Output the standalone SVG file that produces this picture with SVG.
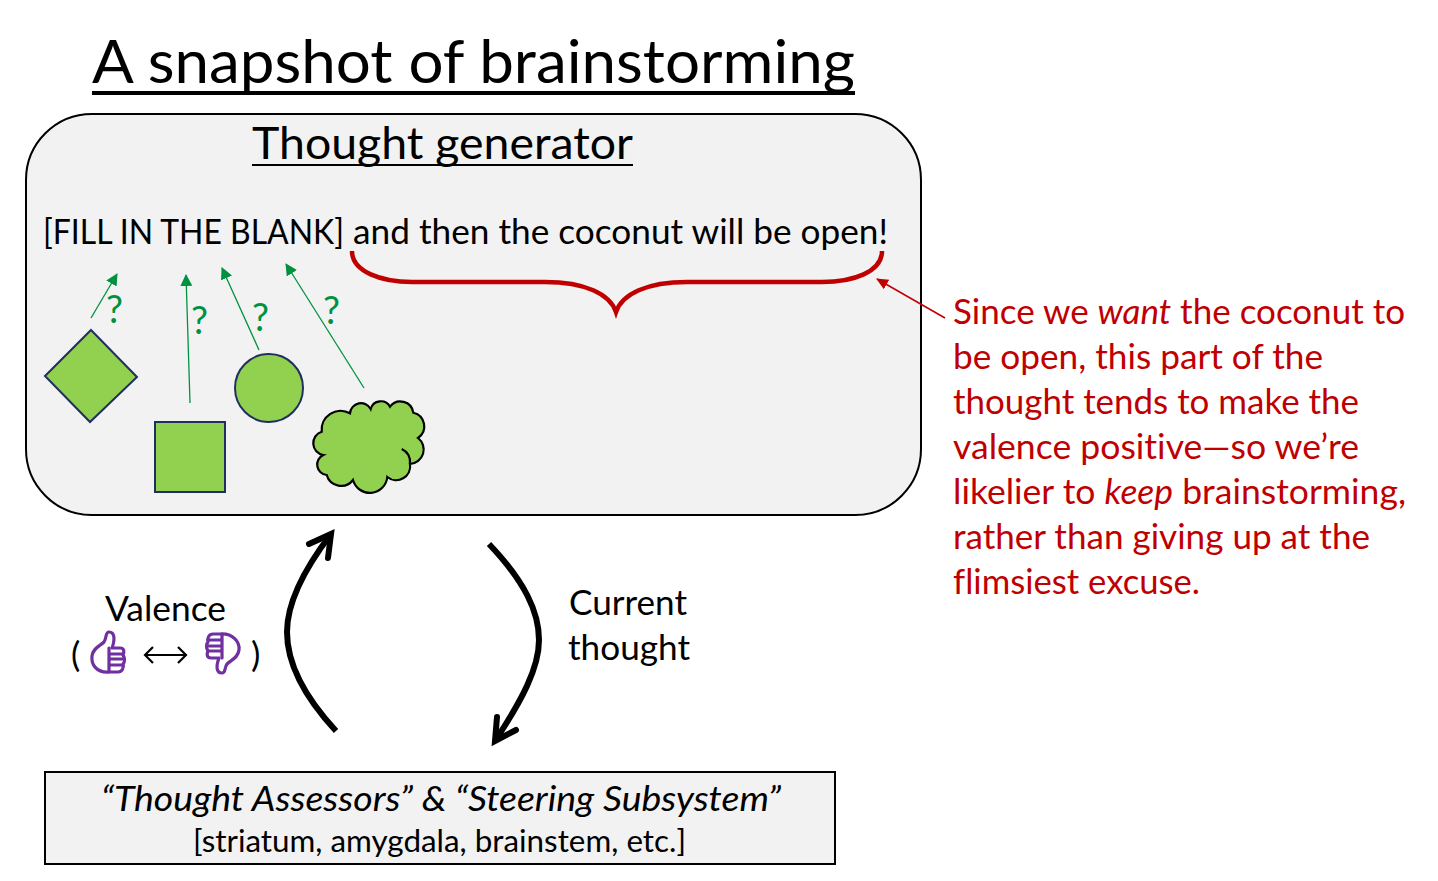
<svg xmlns="http://www.w3.org/2000/svg" width="1438" height="881" viewBox="0 0 1438 881">
<style>
text{font-family:Lato,"Liberation Sans",sans-serif;fill:#000;font-variant-ligatures:none}
.b{font-size:35px}
.r{font-size:35px;fill:#c00000}
.q{font-size:38px;fill:#00913f}
.i{font-style:italic}
.g{fill:#92d050;stroke:#1f2f5f;stroke-width:2}
.gl{stroke:#00913f;stroke-width:1.3;fill:none;marker-end:url(#ga)}
.k{fill:none;stroke:#000;stroke-width:6}
.p{fill:none;stroke:#7030a0;stroke-width:3.2;stroke-linejoin:round;stroke-linecap:round}
</style>
<defs>
<marker id="ga" markerUnits="userSpaceOnUse" markerWidth="14" markerHeight="14" refX="11" refY="6" orient="auto"><path d="M0 0L12 6L0 12Z" fill="#00913f"/></marker>
<marker id="ra" markerUnits="userSpaceOnUse" markerWidth="14" markerHeight="14" refX="11" refY="5.5" orient="auto"><path d="M0 0L12 5.5L0 11Z" fill="#c00000"/></marker>
</defs>
<g id="title">
<text x="92" y="83" font-size="60" textLength="763" lengthAdjust="spacingAndGlyphs">A snapshot of brainstorming</text>
<rect x="92" y="91" width="763" height="4"/>
</g>
<g id="thought-generator">
<rect x="26" y="114" width="895" height="401" rx="66" fill="#f2f2f2" stroke="#000" stroke-width="2"/>
<text x="252" y="159" font-size="44" textLength="381" lengthAdjust="spacingAndGlyphs">Thought generator</text>
<rect x="252" y="164" width="381" height="2"/>
<text x="43" y="244" class="b" textLength="301" lengthAdjust="spacingAndGlyphs">[FILL IN THE BLANK]</text>
<text x="353" y="244" class="b" textLength="535" lengthAdjust="spacingAndGlyphs">and then the coconut will be open!</text>
</g>
<g id="brace"><path d="M352 251C352 272 382 282 412 282H545C585 282 610 294 616 312C622 294 647 282 687 282H822C853 282 882 272 882 251" fill="none" stroke="#c00000" stroke-width="4.5"/></g>
<g id="diamond"><path class="g" d="M91 330L137 377L90 422L45 376Z"/></g>
<g id="square"><rect class="g" x="155" y="422" width="70" height="70"/></g>
<g id="circle"><circle class="g" cx="269" cy="388" r="34"/></g>
<g id="cloud">
<path d="M321.7 431.7A19 19 0 0 1 350 413.3A11 11 0 0 1 370.7 409A10.5 10.5 0 0 1 390 406.7A13 13 0 0 1 413.3 412.7A14 14 0 0 1 418 438A14.5 14.5 0 0 1 410 464A14 14 0 0 1 387.3 477A17.5 17.5 0 0 1 353 480A15 15 0 0 1 326.7 475A10.5 10.5 0 0 1 323.3 455A12 12 0 0 1 321.7 431.7Z" fill="#92d050" stroke="#000" stroke-width="2.2"/>
<path d="M401.7 449A14 14 0 0 1 410 464" fill="none" stroke="#000" stroke-width="2.2"/>
</g>
<g id="connectors">
<path class="gl" d="M91 318L117 274"/>
<path class="gl" d="M190 403L186 275"/>
<path class="gl" d="M259 350L222 268"/>
<path class="gl" d="M364 388L286 264"/>
<path d="M945 318L877 279" stroke="#c00000" stroke-width="1.5" fill="none" marker-end="url(#ra)"/>
<path class="k" d="M336 731C300 692 287 660 287 632C287 604 302 572 331 534"/>
<path class="k" stroke-linecap="round" d="M309 544L331 534L328 558"/>
<path class="k" d="M489 544C525 582 539 612 539 640C539 668 522 700 495 741"/>
<path class="k" stroke-linecap="round" d="M497 717L495 741L516 730"/>
</g>
<g id="question-marks">
<text x="106" y="323" class="q">?</text>
<text x="191" y="334" class="q">?</text>
<text x="252" y="331" class="q">?</text>
<text x="323" y="324" class="q">?</text>
</g>
<g id="note">
<text x="953" y="324" class="r" textLength="452" lengthAdjust="spacingAndGlyphs">Since we <tspan class="i">want</tspan> the coconut to</text>
<text x="953" y="369" class="r" textLength="370" lengthAdjust="spacingAndGlyphs">be open, this part of the</text>
<text x="953" y="414" class="r" textLength="406" lengthAdjust="spacingAndGlyphs">thought tends to make the</text>
<text x="953" y="459" class="r" textLength="406" lengthAdjust="spacingAndGlyphs">valence positive—so we’re</text>
<text x="953" y="504" class="r" textLength="453" lengthAdjust="spacingAndGlyphs">likelier to <tspan class="i">keep</tspan> brainstorming,</text>
<text x="953" y="549" class="r" textLength="417" lengthAdjust="spacingAndGlyphs">rather than giving up at the</text>
<text x="953" y="594" class="r" textLength="247" lengthAdjust="spacingAndGlyphs">flimsiest excuse.</text>
</g>
<g id="valence">
<text x="105" y="621" class="b" textLength="121" lengthAdjust="spacingAndGlyphs">Valence</text>
<text x="71" y="667" class="b">(</text>
<text x="251" y="667" class="b">)</text>
<path d="M145 655H186M153 647L145 655L153 663M178 647L186 655L178 663" fill="none" stroke="#000" stroke-width="2.2"/>
<g id="thumb-up">
<path class="p" d="M109 672C96 673 91 664 92 656C93 648 100 646 104 642C107 638 105 632 109 632C115 632 115 640 112 648H120C125 648 124 653 123 655C125 658 125 662 123 664C124 668 122 672 118 672Z"/>
<path class="p" d="M110 654H123M110 659H124M110 665H123M109 648V672"/>
</g>
<g id="thumb-down">
<path class="p" d="M220 634C233 633 240 642 239 650C238 658 231 660 227 664C224 668 226 673 222 673C216 673 216 666 219 658H211C206 658 207 653 208 651C206 648 206 644 208 642C207 638 209 634 213 634Z"/>
<path class="p" d="M221 651H208M221 646H207M221 640H208M222 634V658"/>
</g>
</g>
<g id="current-thought">
<text x="569" y="615" class="b" textLength="118" lengthAdjust="spacingAndGlyphs">Current</text>
<text x="568" y="660" class="b" textLength="122" lengthAdjust="spacingAndGlyphs">thought</text>
</g>
<g id="assessors">
<rect x="45" y="772" width="790" height="92" fill="#f2f2f2" stroke="#000" stroke-width="2"/>
<text x="101" y="811" class="i" font-size="35" textLength="680" lengthAdjust="spacingAndGlyphs">“Thought Assessors” &amp; “Steering Subsystem”</text>
<text x="193" y="852" font-size="30" textLength="493" lengthAdjust="spacingAndGlyphs">[striatum, amygdala, brainstem, etc.]</text>
</g>
</svg>
